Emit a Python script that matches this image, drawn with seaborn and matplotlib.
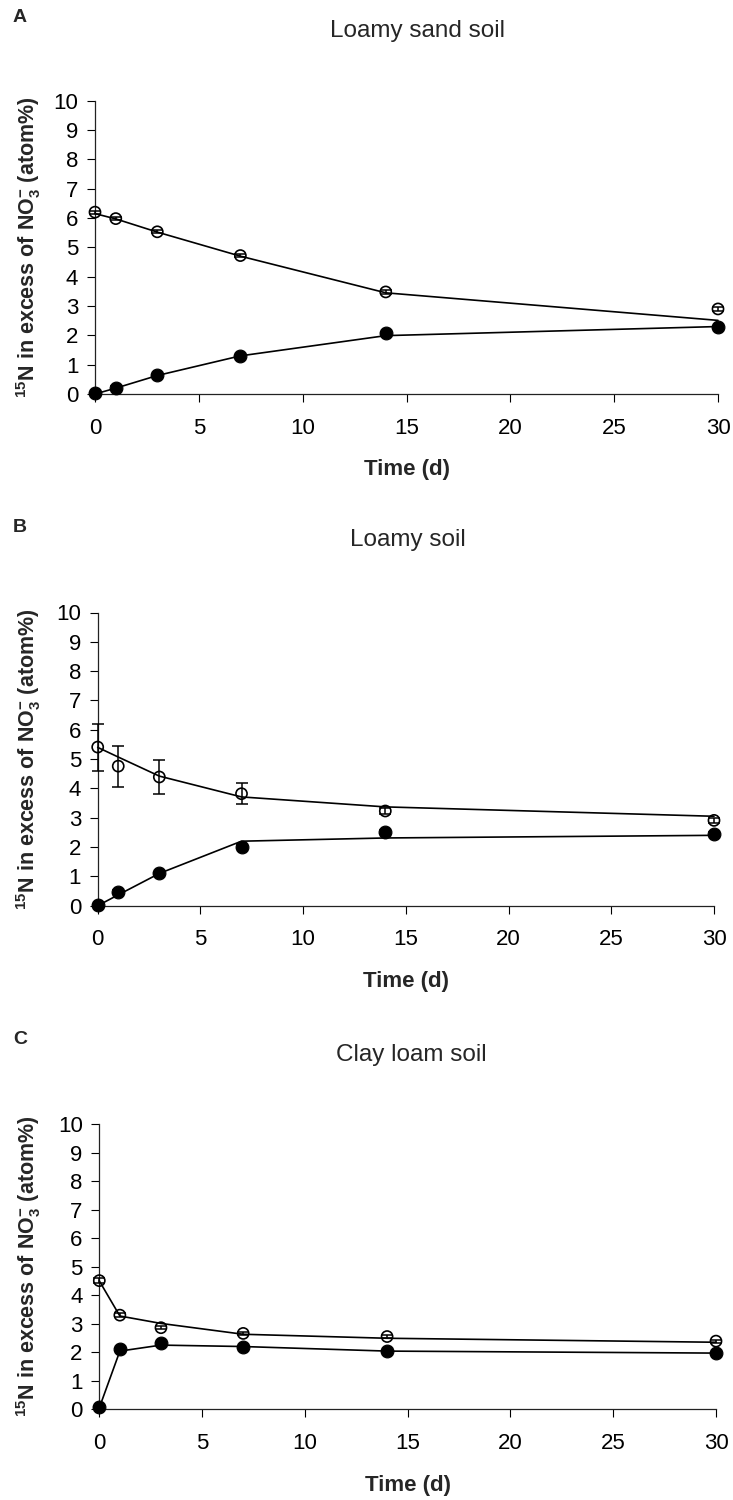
import matplotlib
matplotlib.use("Agg")
import matplotlib.pyplot as plt
import seaborn as sns
import pandas as pd

# Sampling days
days = [0, 1, 3, 7, 14, 30]

# Panel A - loamy sand soil
open_A = [6.20, 5.98, 5.53, 4.72, 3.48, 2.90]
open_err_A = [0.05, 0.05, 0.05, 0.05, 0.06, 0.08]
open_fit_A = [6.15, 5.97, 5.52, 4.70, 3.45, 2.51]
fill_A = [0.02, 0.22, 0.65, 1.30, 2.08, 2.28]
fill_err_A = [0.03, 0.04, 0.04, 0.04, 0.05, 0.05]
fill_fit_A = [0.00, 0.20, 0.63, 1.30, 1.99, 2.30]

# Panel B - loamy soil
open_B = [5.41, 4.76, 4.39, 3.82, 3.23, 2.91]
open_err_B = [0.80, 0.70, 0.57, 0.35, 0.10, 0.08]
open_fit_B = [5.40, 5.07, 4.42, 3.71, 3.37, 3.05]
fill_B = [0.02, 0.48, 1.12, 2.01, 2.52, 2.46]
fill_err_B = [0.03, 0.04, 0.04, 0.05, 0.06, 0.05]
fill_fit_B = [0.00, 0.37, 1.10, 2.20, 2.31, 2.40]

# Panel C - clay loam soil
open_C = [4.51, 3.30, 2.86, 2.66, 2.55, 2.39]
open_err_C = [0.08, 0.06, 0.06, 0.05, 0.06, 0.05]
open_fit_C = [4.50, 3.27, 3.01, 2.63, 2.49, 2.35]
fill_C = [0.07, 2.11, 2.31, 2.19, 2.05, 1.98]
fill_err_C = [0.03, 0.05, 0.06, 0.04, 0.04, 0.04]
fill_fit_C = [0.05, 2.04, 2.25, 2.20, 2.04, 1.97]

panel_letters = ["A", "B", "C"]
panel_titles = ["Loamy sand soil", "Loamy soil", "Clay loam soil"]
x_ticks = [0, 5, 10, 15, 20, 25, 30]
y_ticks = list(range(0, 11))

sns.set_theme(style="ticks")
plt.rcParams["font.family"] = ["Liberation Sans", "DejaVu Sans"]
plt.rcParams["mathtext.fontset"] = "custom"
plt.rcParams["mathtext.rm"] = "Liberation Sans"
plt.rcParams["mathtext.bf"] = "Liberation Sans:bold"
plt.rcParams["mathtext.it"] = "Liberation Sans:italic"

W, H = 733, 1500
fig = plt.figure(figsize=(W / 100, H / 100), dpi=100)

# axes boxes in pixels: (x at day 0, x at day 30, y at 10, y at 0)
boxes = [(95, 718, 100.7, 394.0), (97.7, 714, 612.5, 905.7), (99.3, 716, 1124.0, 1409.3)]
letter_y = [17, 528, 1040]
title_y = [31, 540, 1055]
title_x = [418, 408, 411]

panels = [
    (open_A, open_err_A, open_fit_A, fill_A, fill_err_A, fill_fit_A),
    (open_B, open_err_B, open_fit_B, fill_B, fill_err_B, fill_fit_B),
    (open_C, open_err_C, open_fit_C, fill_C, fill_err_C, fill_fit_C),
]

ylab = r"$\mathbf{^{15}N\ in\ excess\ of\ NO_3^{-}\ (atom\%)}$"

for i, (box, data) in enumerate(zip(boxes, panels)):
    x0, x1, y10, y0 = box
    ax = fig.add_axes([x0 / W, 1 - y0 / H, (x1 - x0) / W, (y0 - y10) / H])
    o, oe, of, f, fe, ff = data
    df = pd.DataFrame({"day": days, "open": o, "open_fit": of,
                       "fill": f, "fill_fit": ff})

    # fitted curves
    sns.lineplot(data=df, x="day", y="open_fit", ax=ax, color="black",
                 lw=1.2, clip_on=False, zorder=2)
    sns.lineplot(data=df, x="day", y="fill_fit", ax=ax, color="black",
                 lw=1.2, clip_on=False, zorder=2)

    # error bars
    ax.errorbar(days, o, yerr=oe, fmt="none", ecolor="black", elinewidth=1.1,
                capsize=4.5, capthick=1.1, clip_on=False, zorder=3)
    ax.errorbar(days, f, yerr=fe, fmt="none", ecolor="black", elinewidth=1.1,
                capsize=4.5, capthick=1.1, clip_on=False, zorder=3)

    # observations
    sns.scatterplot(data=df, x="day", y="open", ax=ax, marker="o", s=64,
                    facecolor="none", edgecolor="black", linewidth=1.2,
                    clip_on=False, zorder=4)
    sns.scatterplot(data=df, x="day", y="fill", ax=ax, marker="o", s=85,
                    color="black", edgecolor="black", linewidth=0.8,
                    clip_on=False, zorder=4)

    ax.set_xlim(0, 30)
    ax.set_ylim(0, 10)
    ax.set_xticks(x_ticks)
    ax.set_yticks(y_ticks)
    ax.tick_params(axis="both", direction="out", length=6, width=0.8,
                   color="black", labelsize=16, labelcolor="black")
    ax.tick_params(axis="x", pad=11)
    ax.tick_params(axis="y", pad=6)
    for s in ["top", "right"]:
        ax.spines[s].set_visible(False)
    for s in ["left", "bottom"]:
        ax.spines[s].set_color("#222222")
        ax.spines[s].set_linewidth(0.9)
    ax.set_xlabel("")
    ax.set_ylabel("")
    ax.patch.set_alpha(0)

    yc = (y10 + y0) / 2
    fig.text(29 / W, 1 - yc / H, ylab, rotation=90, ha="center", va="center",
             fontsize=15.5)
    fig.text((x0 + x1) / 2 / W, 1 - (y0 + 76) / H, "Time (d)", ha="center",
             va="center", fontsize=16, fontweight="bold")
    fig.text(13 / W, 1 - letter_y[i] / H, panel_letters[i], ha="left",
             va="center", fontsize=14, fontweight="bold")
    fig.text(title_x[i] / W, 1 - title_y[i] / H, panel_titles[i], ha="center",
             va="center", fontsize=17.5)

fig.savefig("out.png", dpi=100, facecolor="white")
